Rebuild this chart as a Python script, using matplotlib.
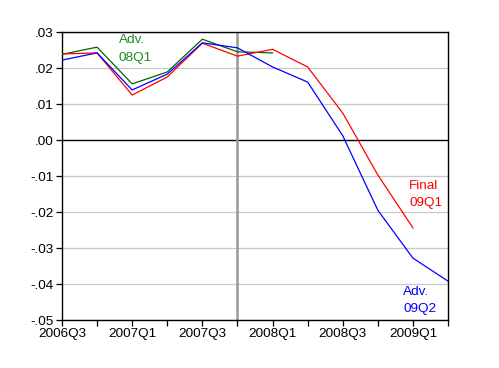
import matplotlib
matplotlib.use('Agg')
import matplotlib.pyplot as plt
import matplotlib.ticker as mticker

# ===== 数据 =====
quarters = ['2006Q3', '2006Q4', '2007Q1', '2007Q2', '2007Q3', '2007Q4',
            '2008Q1', '2008Q2', '2008Q3', '2008Q4', '2009Q1', '2009Q2']
adv_09q2 = [0.0222, 0.0242, 0.0139, 0.0183, 0.0270, 0.0256,
            0.0203, 0.0161, 0.0012, -0.0195, -0.0328, -0.0392]
final_09q1 = [0.0239, 0.0242, 0.0125, 0.0175, 0.0269, 0.0233,
              0.0252, 0.0203, 0.0075, -0.0097, -0.0244]
adv_08q1 = [0.0238, 0.0258, 0.0156, 0.0189, 0.0280, 0.0245, 0.0242]
vline_q = '2007Q4'
yticks = [0.03, 0.02, 0.01, 0.00, -0.01, -0.02, -0.03, -0.04, -0.05]
ytick_labels = ['.03', '.02', '.01', '.00', '-.01', '-.02', '-.03', '-.04', '-.05']

plt.rcParams['font.family'] = ['Liberation Sans', 'DejaVu Sans']
FS = 9.7

fig = plt.figure(figsize=(4.99, 3.68), dpi=100)
ax = fig.add_axes([0.1242, 0.1304, 0.7736, 0.7826])

x = list(range(len(quarters)))

# 网格与零线
for v in yticks:
    if v == 0:
        ax.axhline(v, color='black', lw=1.0, zorder=1)
    else:
        ax.axhline(v, color='#c8c8c8', lw=0.9, zorder=0)

ax.axvline(quarters.index(vline_q), color='#999999', lw=1.8, zorder=1)

ax.plot(x[:len(adv_08q1)], adv_08q1, color='#006400', lw=0.9, zorder=3)
ax.plot(x[:len(final_09q1)], final_09q1, color='red', lw=0.9, zorder=4)
ax.plot(x[:len(adv_09q2)], adv_09q2, color='blue', lw=0.9, zorder=5)

# 标注
ax.text(1.62, 0.0278, 'Adv.', color='#1e8c1e', fontsize=FS, va='center', ha='left')
ax.text(1.62, 0.0228, '08Q1', color='#1e8c1e', fontsize=FS, va='center', ha='left')
ax.text(9.89, -0.0128, 'Final', color='red', fontsize=FS, va='center', ha='left')
ax.text(9.89, -0.0175, '09Q1', color='red', fontsize=FS, va='center', ha='left')
ax.text(9.72, -0.0422, 'Adv.', color='blue', fontsize=FS, va='center', ha='left')
ax.text(9.72, -0.0469, '09Q2', color='blue', fontsize=FS, va='center', ha='left')

ax.set_xlim(0, len(quarters) - 1)
ax.set_ylim(-0.05, 0.03)
ax.set_yticks(yticks)
ax.set_yticklabels(ytick_labels)
ax.set_xticks(x[::2])
ax.set_xticklabels(quarters[::2])
ax.xaxis.set_minor_locator(mticker.FixedLocator(x[1::2]))
ax.tick_params(axis='both', which='both', direction='out', labelsize=FS,
               length=4, width=0.9, colors='black')
ax.tick_params(axis='x', pad=2)
ax.tick_params(axis='y', pad=2)
for s in ax.spines.values():
    s.set_linewidth(1.0)

plt.savefig('out.png', dpi=100)
